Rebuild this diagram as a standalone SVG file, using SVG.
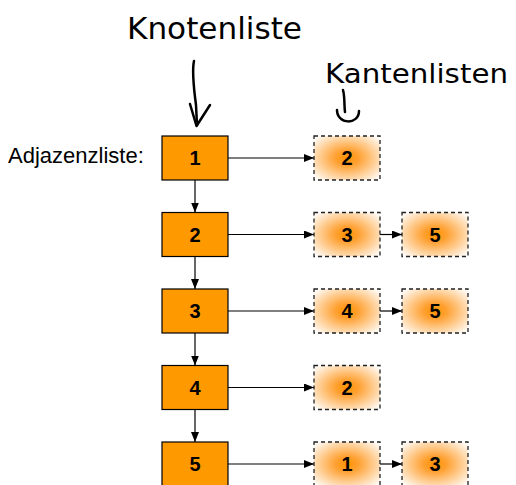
<svg xmlns="http://www.w3.org/2000/svg" width="516" height="485" viewBox="0 0 516 485">
<style>
.node{fill:#ff9900;stroke:#000;stroke-width:1.2}
.edge{fill:url(#glow);stroke:#222;stroke-width:1.3;stroke-dasharray:4,3}
.num{font-family:"Liberation Sans",Arial,sans-serif;font-weight:bold;font-size:20px;text-anchor:middle;fill:#000}
.lbl{font-family:"Liberation Sans",Arial,sans-serif;font-size:22px;fill:#000}
.hand{font-family:"DejaVu Sans","Liberation Sans",sans-serif;fill:#000}
.conn line{stroke:#000;stroke-width:1.2}
.pen{fill:none;stroke:#000;stroke-width:2.5;stroke-linecap:round;stroke-linejoin:round}
</style>
<defs>
<radialGradient id="glow" cx="0.5" cy="0.5" r="0.68">
<stop offset="0" stop-color="#ff9300"/>
<stop offset="0.25" stop-color="#ffa030"/>
<stop offset="1" stop-color="#ffffff"/>
</radialGradient>
<marker id="ah" viewBox="0 0 10 8" refX="10" refY="4" markerWidth="10" markerHeight="8" markerUnits="userSpaceOnUse" orient="auto">
<path d="M0,0 L10,4 L0,8 Z" fill="#000"/>
</marker>
</defs>
<rect width="516" height="485" fill="#fff"/>

<g id="annotations">
<text class="hand" x="127" y="39" font-size="30" textLength="175" lengthAdjust="spacingAndGlyphs">Knotenliste</text>
<path class="pen" d="M194,61 C192,70 194,90 196,105 L197,125"/>
<path class="pen" d="M190,104 L196.5,126 L210,105"/>
<text class="hand" x="325" y="83" font-size="26" textLength="183" lengthAdjust="spacingAndGlyphs">Kantenlisten</text>
<path class="pen" d="M343,90 C345,97 344,105 345,112"/>
<path class="pen" d="M337,110 C337,125 359,125 359,111"/>
<text class="lbl" x="8" y="163">Adjazenzliste:</text>
</g>

<g class="conn" id="connectors">
<line x1="195" y1="180" x2="195" y2="212.5" marker-end="url(#ah)"/>
<line x1="195" y1="256.5" x2="195" y2="289" marker-end="url(#ah)"/>
<line x1="195" y1="333" x2="195" y2="365.5" marker-end="url(#ah)"/>
<line x1="195" y1="409.5" x2="195" y2="442" marker-end="url(#ah)"/>
<line x1="228" y1="158" x2="314" y2="158" marker-end="url(#ah)"/>
<line x1="228" y1="234.5" x2="314" y2="234.5" marker-end="url(#ah)"/>
<line x1="380" y1="234.5" x2="402" y2="234.5" marker-end="url(#ah)"/>
<line x1="228" y1="311" x2="314" y2="311" marker-end="url(#ah)"/>
<line x1="380" y1="311" x2="402" y2="311" marker-end="url(#ah)"/>
<line x1="228" y1="387.5" x2="314" y2="387.5" marker-end="url(#ah)"/>
<line x1="228" y1="464" x2="314" y2="464" marker-end="url(#ah)"/>
<line x1="380" y1="464" x2="402" y2="464" marker-end="url(#ah)"/>
</g>

<g id="node1"><rect class="node" x="162" y="136" width="66" height="44"/><text class="num" x="195" y="165">1</text></g>
<g id="node2"><rect class="node" x="162" y="212.5" width="66" height="44"/><text class="num" x="195" y="241.5">2</text></g>
<g id="node3"><rect class="node" x="162" y="289" width="66" height="44"/><text class="num" x="195" y="318">3</text></g>
<g id="node4"><rect class="node" x="162" y="365.5" width="66" height="44"/><text class="num" x="195" y="394.5">4</text></g>
<g id="node5"><rect class="node" x="162" y="442" width="66" height="44"/><text class="num" x="195" y="471">5</text></g>

<g id="edge1-2"><rect class="edge" x="314" y="136" width="66" height="44"/><text class="num" x="347" y="165">2</text></g>
<g id="edge2-3"><rect class="edge" x="314" y="212.5" width="66" height="44"/><text class="num" x="347" y="241.5">3</text></g>
<g id="edge2-5"><rect class="edge" x="402" y="212.5" width="66" height="44"/><text class="num" x="435" y="241.5">5</text></g>
<g id="edge3-4"><rect class="edge" x="314" y="289" width="66" height="44"/><text class="num" x="347" y="318">4</text></g>
<g id="edge3-5"><rect class="edge" x="402" y="289" width="66" height="44"/><text class="num" x="435" y="318">5</text></g>
<g id="edge4-2"><rect class="edge" x="314" y="365.5" width="66" height="44"/><text class="num" x="347" y="394.5">2</text></g>
<g id="edge5-1"><rect class="edge" x="314" y="442" width="66" height="44"/><text class="num" x="347" y="471">1</text></g>
<g id="edge5-3"><rect class="edge" x="402" y="442" width="66" height="44"/><text class="num" x="435" y="471">3</text></g>
</svg>
